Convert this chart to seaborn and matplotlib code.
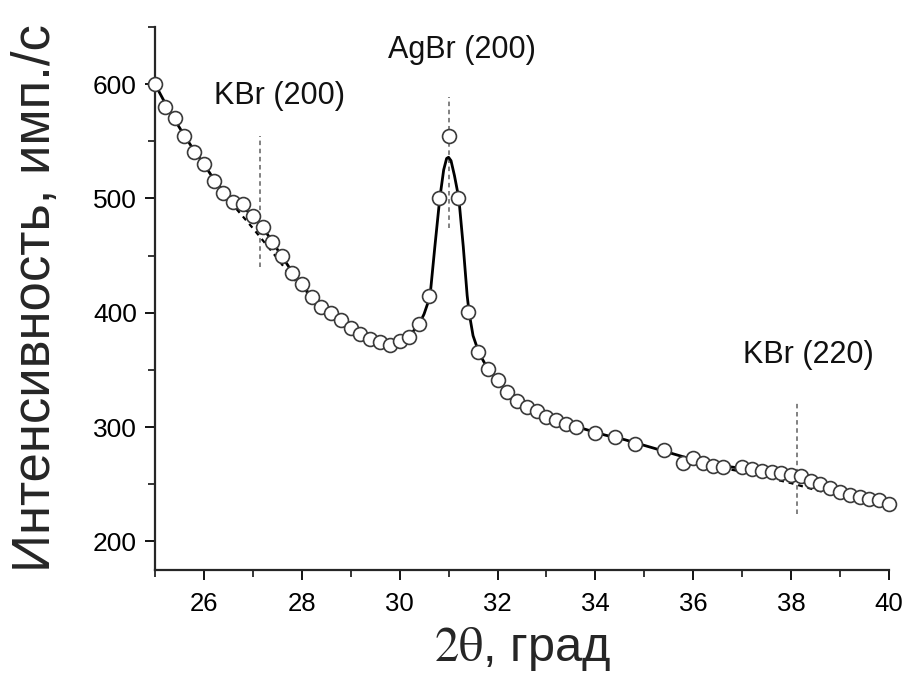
import numpy as np
import pandas as pd
import matplotlib
matplotlib.use("Agg")
import matplotlib.pyplot as plt
import seaborn as sns

# ---- data ----
two_theta = [25.0, 25.2, 25.4, 25.6, 25.8, 26.0, 26.2, 26.4, 26.6, 26.8,
             27.0, 27.2, 27.4, 27.6, 27.8, 28.0, 28.2, 28.4, 28.6, 28.8,
             29.0, 29.2, 29.4, 29.6, 29.8, 30.0, 30.2, 30.4, 30.6, 30.8,
             31.0, 31.2, 31.4, 31.6, 31.8, 32.0, 32.2, 32.4, 32.6, 32.8,
             33.0, 33.2, 33.4, 33.6, 34.0, 34.4, 34.8, 35.4, 35.8, 36.0,
             36.2, 36.4, 36.6, 37.0, 37.2, 37.4, 37.6, 37.8, 38.0, 38.2,
             38.4, 38.6, 38.8, 39.0, 39.2, 39.4, 39.6, 39.8, 40.0]
intensity = [600, 580, 570, 555, 541, 530, 515, 505, 497, 495,
             485, 475, 462, 450, 435, 425, 414, 405, 400, 394,
             387, 381, 377, 374, 372, 375, 379, 390, 415, 500,
             555, 500, 401, 366, 351, 341, 331, 323, 318, 314,
             309, 306, 303, 300, 295, 291, 285, 280, 269, 273,
             269, 266, 265, 265, 263, 262, 261, 260, 258.5, 257,
             252.5, 250, 246.5, 243, 240.5, 238.5, 237.5, 236, 233]

fit_x = [25.0, 25.2, 25.4, 25.6, 25.8, 26.0, 26.2, 26.4, 26.6, 26.8,
         27.0, 27.2, 27.4, 27.6, 27.8, 28.0, 28.2, 28.4, 28.6, 28.8,
         29.0, 29.2, 29.4, 29.6, 29.8, 30.0, 30.2, 30.4, 30.5, 30.62,
         30.72, 30.82, 30.9, 30.96, 31.0, 31.05, 31.12, 31.21, 31.3, 31.38,
         31.42, 31.5, 31.62, 31.8, 32.0, 32.2, 32.4, 32.6, 32.8, 33.0,
         33.4, 33.8, 34.2, 34.6, 35.0, 35.4, 35.8, 36.2, 36.6, 37.0,
         37.4, 37.8, 38.2, 38.6, 39.0, 39.4, 39.8, 40.0]
fit_y = [600, 584, 569, 555, 542, 530, 517, 506, 498, 492,
         485, 475, 462, 449, 436, 425, 414, 405, 399, 393,
         387, 381, 377, 374, 373, 375, 380, 390, 399, 414,
         458, 500, 525, 535, 536, 533, 520, 500, 458, 415,
         400, 380, 365, 351, 341, 331, 323, 318, 314, 309,
         303, 298, 293, 289, 284, 279, 274, 269, 266, 264,
         262, 260, 257, 251, 244, 239, 235, 233]

base1_x = [26.3, 26.6, 27.0, 27.4, 27.8, 28.2]
base1_y = [511, 494, 474, 453, 431, 414]
base2_x = [36.0, 36.5, 37.0, 37.5, 38.0, 38.5, 39.0, 39.5, 40.0]
base2_y = [270, 265, 261, 256, 251, 245, 240, 235, 231]

peak_names = ["KBr (200)", "AgBr (200)", "KBr (220)"]
peak_pos = [27.15, 31.0, 38.13]
peak_lo = [440, 474, 224]
peak_hi = [555, 589, 323]
label_x = [27.55, 31.27, 38.35]
label_y = [590, 630, 363]

xticks = [26, 28, 30, 32, 34, 36, 38, 40]
yticks = [200, 300, 400, 500, 600]

# ---- style ----
sns.set_style("ticks")
plt.rcParams['font.family'] = ['Liberation Sans', 'DejaVu Sans']
plt.rcParams['mathtext.fontset'] = 'stix'

fig = plt.figure(figsize=(9.10, 6.73), dpi=100)
ax = fig.add_axes([0.1703, 0.153, 0.8066, 0.807])

df_fit = pd.DataFrame({"x": fit_x, "y": fit_y})
sns.lineplot(data=df_fit, x="x", y="y", ax=ax, color="black", lw=2.0,
             sort=False, zorder=2)
for bx, by in [(base1_x, base1_y), (base2_x, base2_y)]:
    sns.lineplot(x=bx, y=by, ax=ax, color="black", lw=1.6,
                 linestyle=(0, (2.2, 2.2)), sort=False, zorder=2)

for name, p, lo, hi, lx, ly in zip(peak_names, peak_pos, peak_lo, peak_hi,
                                   label_x, label_y):
    ax.vlines(p, lo, hi, colors="#777777", linestyles=(0, (2.5, 2)), lw=1.3,
              zorder=1)
    ax.text(lx, ly, name, ha="center", va="center", fontsize=22,
            color="#111111")

df_pts = pd.DataFrame({"x": two_theta, "y": intensity})
sns.scatterplot(data=df_pts, x="x", y="y", ax=ax, s=100, marker="o",
                facecolor="white", edgecolor="#3a3a3a", linewidth=1.2,
                zorder=3, clip_on=False)

ax.set_xlim(25, 40)
ax.set_ylim(175, 650)
ax.set_xticks(xticks)
ax.set_yticks(yticks)
ax.set_xticks(np.arange(25, 41, 1), minor=True)
ax.set_yticks(np.arange(200, 651, 50), minor=True)
ax.tick_params(axis="both", which="major", direction="out", length=7,
               width=1.3, colors="black")
ax.tick_params(axis="y", which="major", labelsize=19, pad=6)
ax.tick_params(axis="x", which="major", labelsize=18.5, pad=9)
ax.tick_params(axis="both", which="minor", direction="out", length=5,
               width=1.3)
for s in ["top", "right"]:
    ax.spines[s].set_visible(False)
for s in ["left", "bottom"]:
    ax.spines[s].set_linewidth(1.6)

ax.set_xlabel(r"$\mathrm{2\theta}$, град", fontsize=35, labelpad=6)
ax.set_ylabel("Интенсивность, имп./с", fontsize=38)
ax.yaxis.set_label_coords(-0.128, 0.5)

fig.savefig("out.png", dpi=100)
